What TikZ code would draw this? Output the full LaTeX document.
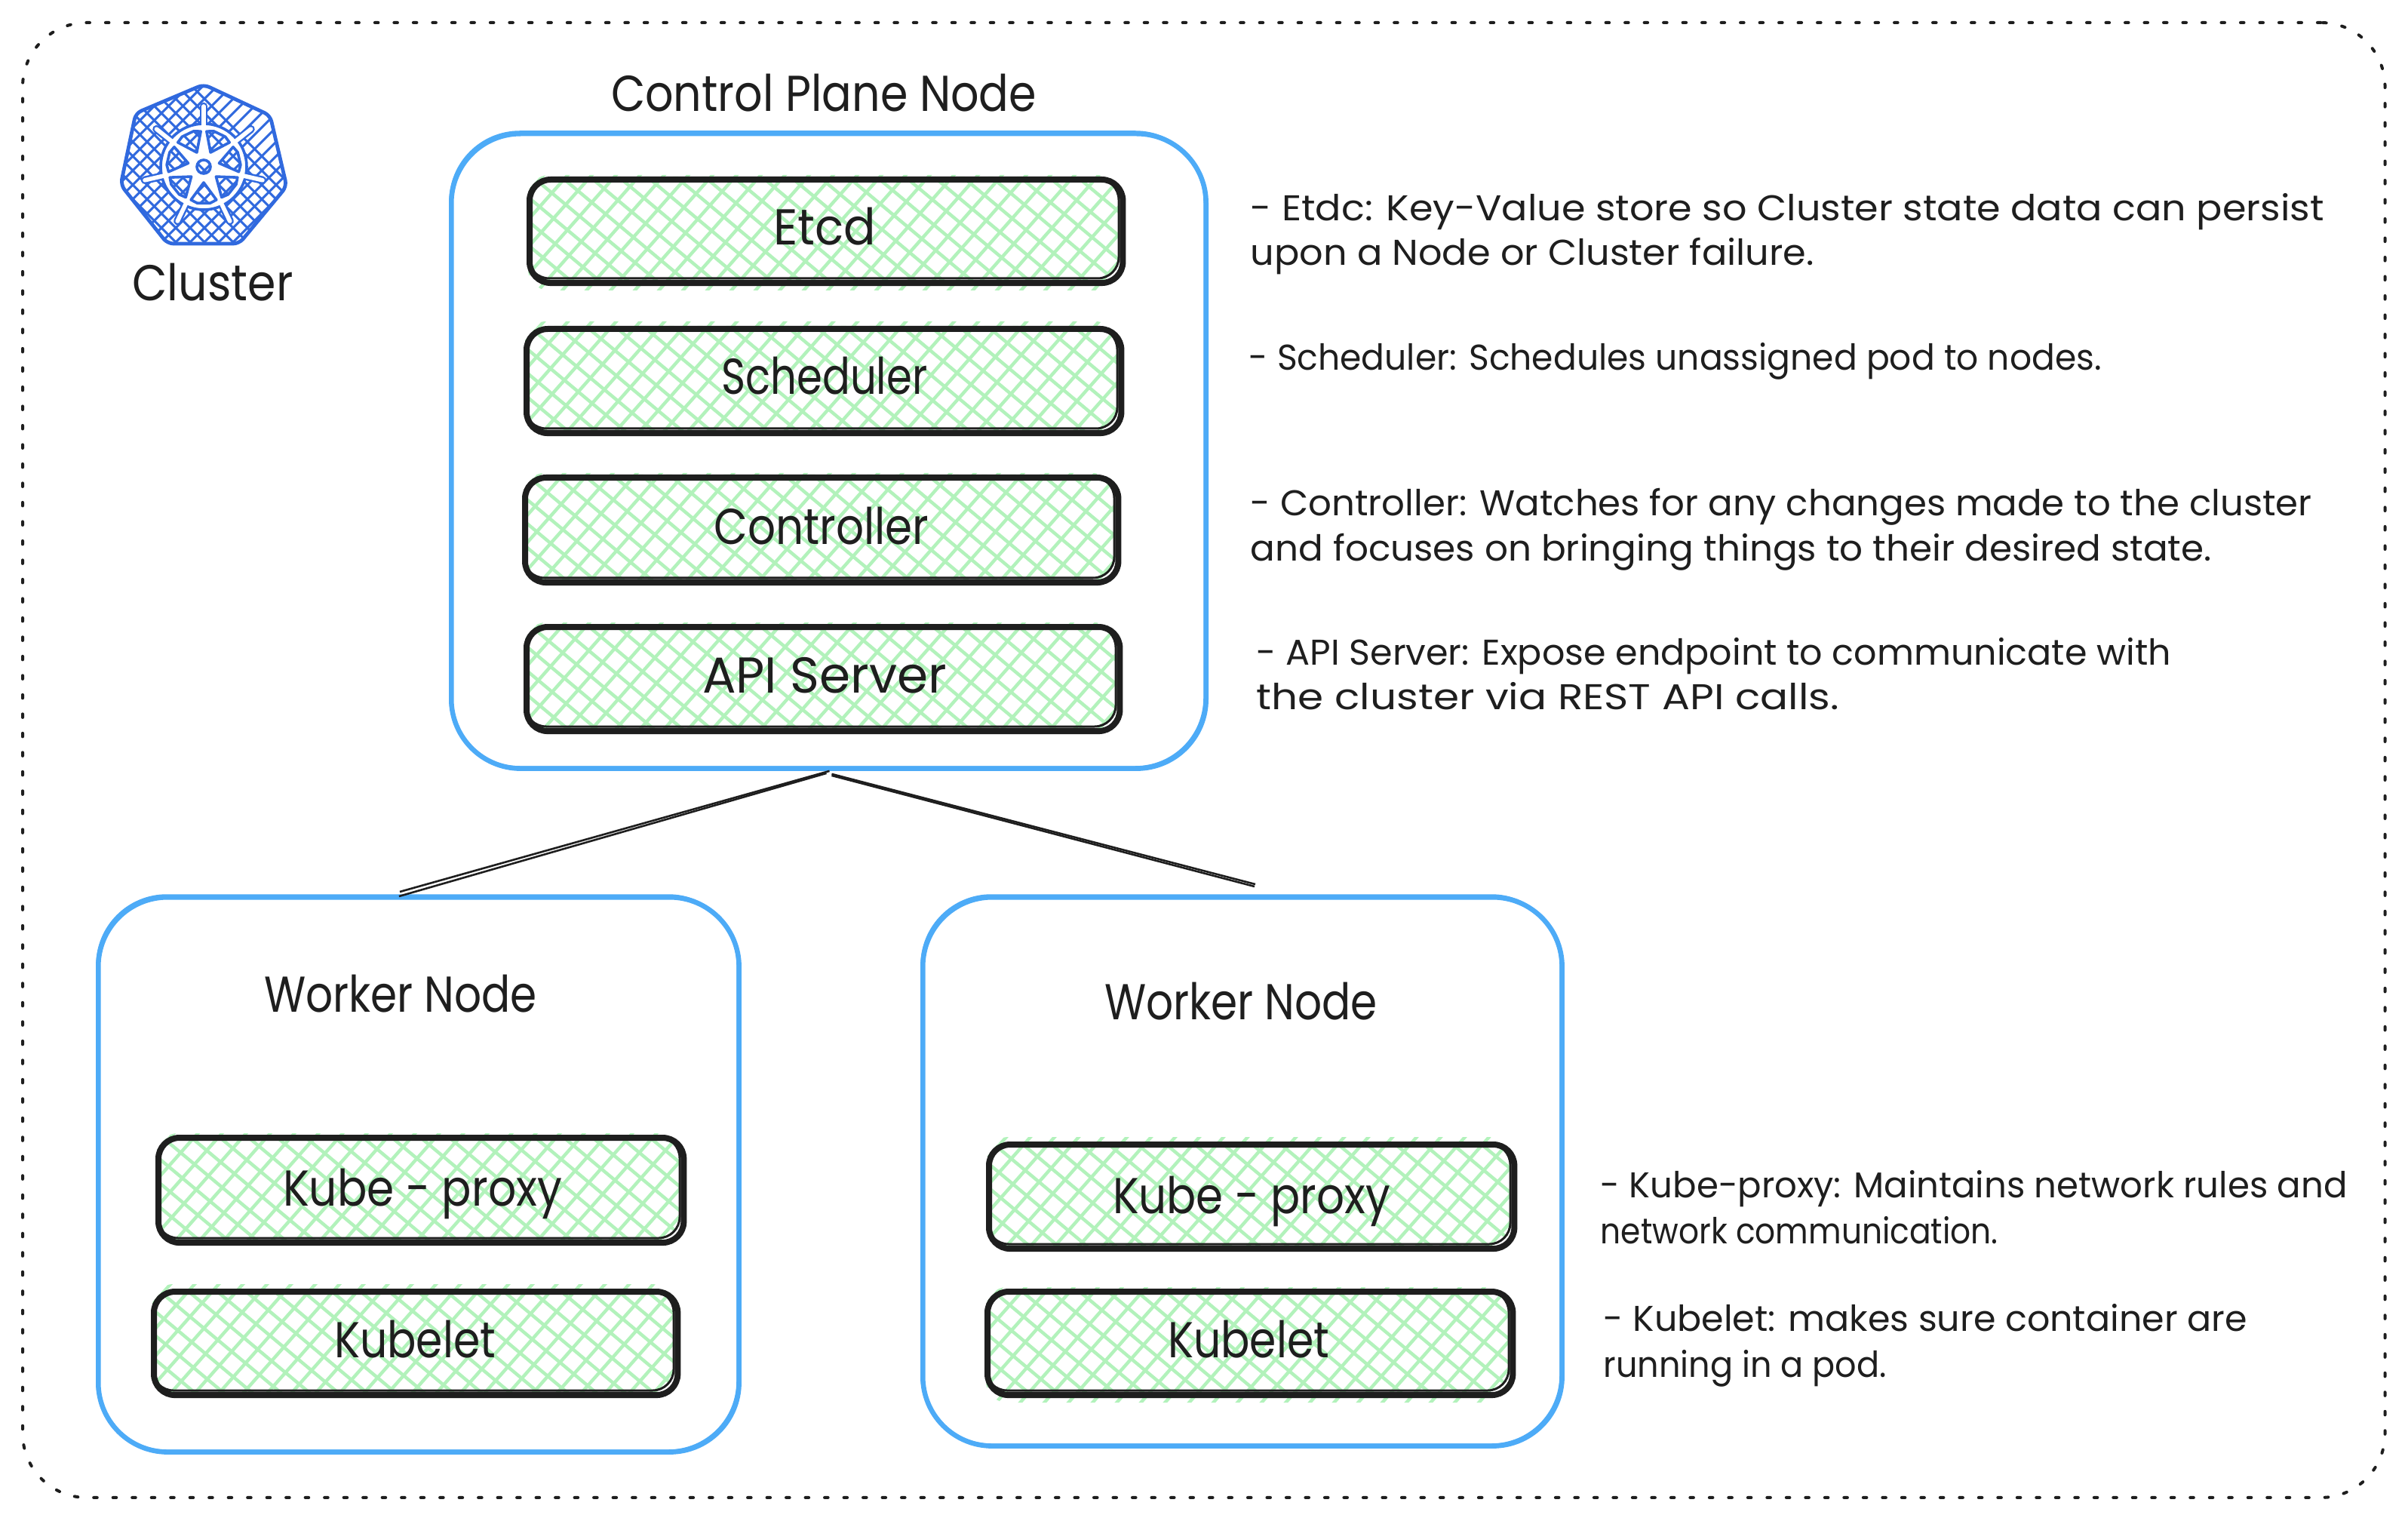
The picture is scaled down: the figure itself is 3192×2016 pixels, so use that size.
\documentclass[tikz,border=0pt]{standalone}
\usepackage{graphicx}
\usepackage{fontspec}
\setmainfont{Poppins}
\usetikzlibrary{calc}
\definecolor{ink}{HTML}{1E1E1E}
\definecolor{sky}{HTML}{4DABF7}
\definecolor{mint}{HTML}{B2F2BB}
\definecolor{helm}{HTML}{3069DE}
\newlength{\pxu}\setlength{\pxu}{0.01cm}
\newcommand{\fitw}[2]{\resizebox{#1\pxu}{\height}{#2}}
\tikzset{
  x=0.01cm,y=-0.01cm,
  bluebox/.style={draw=sky,line width=6.5*0.2845pt,rounded corners=92*0.2845pt,rectangle,inner sep=0pt,anchor=north west},
  inkbox/.style={draw=ink,line width=8*0.2845pt,rounded corners=28*0.2845pt,rectangle,inner sep=0pt,anchor=north west},
  hatchline/.style={draw=mint,line width=4.4*0.2845pt},
  helmline/.style={draw=helm,line width=3*0.2845pt},
  bigtext/.style={inner sep=0pt,anchor=base,text=ink,font=\fontsize{19pt}{23pt}\selectfont},
  bodytext/.style={inner sep=0pt,anchor=base west,text=ink,font=\fontsize{13.5pt}{16pt}\selectfont},
  joinline/.style={draw=ink,line width=2.6*0.2845pt},
}
% name, x1, y1, x2, y2, top overshoot, bottom overshoot
\newcommand{\hatchbox}[7]{%
  \begin{scope}[shift={(-4,-4)}]
  \begin{scope}
    \clip[rounded corners=28*0.2845pt] (#2+2,#3-#6) rectangle (#4-2,#5+#7);
    \foreach \k in {-10,...,40}{
      \draw[hatchline] (#2+\k*32-150,#5+20) -- ++(175,-198);
    }
  \end{scope}
  \begin{scope}
    \clip[rounded corners=28*0.2845pt] (#2+2,#3) rectangle (#4-2,#5);
    \foreach \k in {-10,...,40}{
      \draw[hatchline] (#2+\k*38+5,#5+20) -- ++(-215,-180);
    }
  \end{scope}
  \node[inkbox,minimum width=(#4-#2)*0.2845pt,minimum height=(#5-#3)*0.2845pt] (#1) at (#2,#3) {};
  \draw[ink,line width=3*0.2845pt,rounded corners=28*0.2845pt] (#2+2,#3+3) rectangle (#4-1,#5-2);
  \end{scope}
}
\newcommand{\bluenode}[5]{%
  \begin{scope}[shift={(-3,-3)}]
  \node[bluebox,minimum width=(#4-#2)*0.2845pt,minimum height=(#5-#3)*0.2845pt] (#1) at (#2,#3) {};
  \draw[sky,line width=3.5*0.2845pt,rounded corners=92*0.2845pt] (#2+2,#3+1) rectangle (#4+2,#5+2);
  \end{scope}
}
\begin{document}
\begin{tikzpicture}
\useasboundingbox (0,0) rectangle (3192,2016);
\fill[white] (0,0) rectangle (3192,2016);
% outer frame
\node[draw=ink,line width=4*0.2845pt,line cap=round,dash pattern=on 1.3pt off 5.95pt,rounded corners=85*0.2845pt,rectangle,inner sep=0pt,anchor=north west,minimum width=3130*0.2845pt,minimum height=1954*0.2845pt] (frame) at (28,28) {};

% kubernetes logo
\begin{scope}
  \coordinate (hA) at (270,112); \coordinate (hB) at (358,153); \coordinate (hC) at (380,247);
  \coordinate (hD) at (317,323); \coordinate (hE) at (222,323); \coordinate (hF) at (160,245); \coordinate (hG) at (180,150);
  \begin{scope}
    \clip[rounded corners=8*0.2845pt] (hA) -- (hB) -- (hC) -- (hD) -- (hE) -- (hF) -- (hG) -- cycle;
    \foreach \k in {-12,...,20}{
      \draw[helmline] (100+\k*19,340) -- ++(-230,-230);
      \draw[helmline] (100+\k*19,340) -- ++(230,-230);
    }
  \end{scope}
  \draw[helm,line width=4.8*0.2845pt,rounded corners=8*0.2845pt,line join=round] (hA) -- (hB) -- (hC) -- (hD) -- (hE) -- (hF) -- (hG) -- cycle;
  \coordinate (hub) at (270,221);
  % handles: outlines first, the wheel above them, then the white inner strips
  \foreach \a in {0,...,6}{
    \draw[helm,line width=10.5*0.2845pt,line cap=round] ($(hub)+({-90+\a*360/7}:55)$) -- ($(hub)+({-90+\a*360/7}:80)$);
  }
  \def\wro{47}\def\wri{21}
  \fill[white,even odd rule] (hub) circle[radius=57]
    (hub) circle[radius=9]
    \foreach \a in {0,...,6}{
      ($(hub)+({-90+(\a+0.5)*360/7-21}:\wro)$) -- ($(hub)+({-90+(\a+0.5)*360/7-10}:{\wro+2})$) -- ($(hub)+({-90+(\a+0.5)*360/7+10}:{\wro+2})$) -- ($(hub)+({-90+(\a+0.5)*360/7+21}:\wro)$) -- ($(hub)+({-90+(\a+0.5)*360/7}:\wri)$) -- cycle
    };
  \draw[helm,line width=3.6*0.2845pt] (hub) circle[radius=57];
  \draw[helm,line width=3.6*0.2845pt] (hub) circle[radius=9];
  \foreach \a in {0,...,6}{
    \draw[helm,line width=3.6*0.2845pt,line join=round] ($(hub)+({-90+(\a+0.5)*360/7-21}:\wro)$) -- ($(hub)+({-90+(\a+0.5)*360/7-10}:{\wro+2})$) -- ($(hub)+({-90+(\a+0.5)*360/7+10}:{\wro+2})$) -- ($(hub)+({-90+(\a+0.5)*360/7+21}:\wro)$) -- ($(hub)+({-90+(\a+0.5)*360/7}:\wri)$) -- cycle;
    \draw[white,line width=5.6*0.2845pt,line cap=round] ($(hub)+({-90+\a*360/7}:52)$) -- ($(hub)+({-90+\a*360/7}:80)$);
  }
\end{scope}
\node[bigtext] (clusterlabel) at (282,399) {\fitw{213}{Cluster}};

% control plane
\bluenode{cp}{598}{177}{1598}{1018}
\node[bigtext] (cptitle) at (1092,148) {\fitw{564}{Control Plane Node}};
\hatchbox{etcd}{702}{238}{1488}{375}{2}{14}
\node[bigtext] (etcdt) at (1093,325) {\fitw{136}{Etcd}};
\hatchbox{sched}{698}{436}{1486}{574}{6}{2}
\node[bigtext] (schedt) at (1093,523) {\fitw{273}{Scheduler}};
\hatchbox{ctrl}{696}{633}{1482}{772}{2}{2}
\node[bigtext] (ctrlt) at (1089,722) {\fitw{285}{Controller}};
\hatchbox{api}{698}{831}{1484}{969}{2}{2}
\node[bigtext] (apit) at (1093,918) {\fitw{324}{API Server}};

% left worker
\bluenode{wa}{130}{1189}{979}{1924}
\node[bigtext] (watitle) at (531,1341) {\fitw{362}{Worker Node}};
\hatchbox{pa}{210}{1508}{906}{1647}{2}{2}
\node[bigtext] (pat) at (560,1598) {\fitw{370}{Kube - proxy}};
\hatchbox{ka}{204}{1712}{898}{1849}{6}{2}
\node[bigtext] (kat) at (550,1799) {\fitw{214}{Kubelet}};

% right worker
\bluenode{wb}{1223}{1189}{2070}{1916}
\node[bigtext] (wbtitle) at (1645,1351) {\fitw{362}{Worker Node}};
\hatchbox{pb}{1311}{1517}{2007}{1655}{6}{2}
\node[bigtext] (pbt) at (1659,1608) {\fitw{368}{Kube - proxy}};
\hatchbox{kb}{1309}{1712}{2005}{1849}{2}{14}
\node[bigtext] (kbt) at (1655,1799) {\fitw{214}{Kubelet}};

% connectors
\coordinate (la) at ($(wa.north)+(-25,-4)$);
\coordinate (lb) at ($(wb.north)+(17,-14)$);
\coordinate (top) at ($(cp.south)+(1,0)$);
\draw[joinline] (top) -- (la);
\draw[joinline] ($(top)+(-4,3)$) -- ($(la)+(-1,6)$);
\draw[joinline] ($(top)+(3,4)$) -- (lb);
\draw[joinline] ($(top)+(3,6)$) -- ($(lb)+(-1,3)$);

% descriptions
\node[bodytext] (d1) at (1657,293) {\fitw{1423}{- Etdc: Key-Value store so Cluster state data can persist}};
\node[bodytext] (d2) at (1657,352) {\fitw{747}{upon a Node or Cluster failure.}};
\node[bodytext] (d3) at (1655,491) {\fitw{1130}{- Scheduler: Schedules unassigned pod to nodes.}};
\node[bodytext] (d4) at (1657,684) {\fitw{1407}{- Controller: Watches for any changes made to the cluster}};
\node[bodytext] (d5) at (1657,743) {\fitw{1274}{and focuses on bringing things to their desired state.}};
\node[bodytext] (d6) at (1665,881) {\fitw{1212}{- API Server: Expose endpoint to communicate with}};
\node[bodytext] (d7) at (1665,940) {\fitw{772}{the cluster via REST API calls.}};
\node[bodytext] (d8) at (2121,1587) {\fitw{990}{- Kube-proxy: Maintains network rules and}};
\node[bodytext] (d9) at (2121,1648) {\fitw{527}{network communication.}};
\node[bodytext] (d10) at (2125,1764) {\fitw{853}{- Kubelet: makes sure container are}};
\node[bodytext] (d11) at (2125,1825) {\fitw{375}{running in a pod.}};
\end{tikzpicture}
\end{document}
